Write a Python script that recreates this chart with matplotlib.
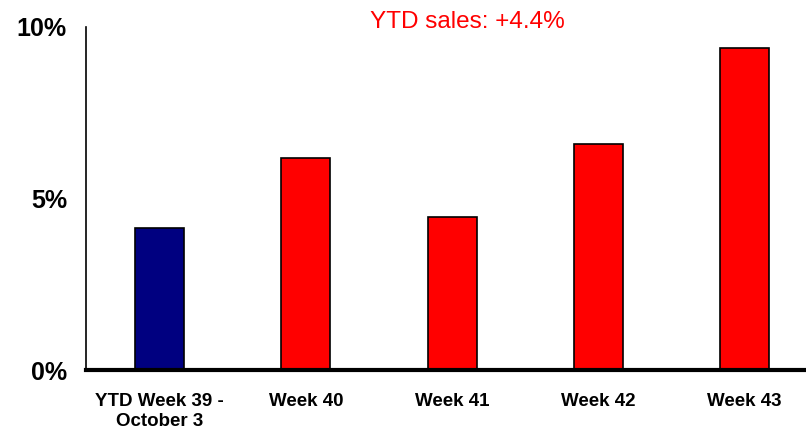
import matplotlib.pyplot as plt

# weekly sales change, percent
weeks = ['YTD Week 39 -\nOctober 3', 'Week 40', 'Week 41', 'Week 42', 'Week 43']
growth = [4.14, 6.18, 4.45, 6.59, 9.39]
colors = ['#000080', '#ff0000', '#ff0000', '#ff0000', '#ff0000']
yticks = [0, 5, 10]
ytick_labels = ['0%', '5%', '10%']

plt.rcParams['font.family'] = ['Liberation Sans', 'DejaVu Sans']

fig = plt.figure(figsize=(8.06, 4.30), dpi=100)
ax = fig.add_axes([86/806, 60/430, 720/806, 343/430])

x = range(len(weeks))
ax.bar(x, growth, width=0.335, color=colors, edgecolor='black', linewidth=1.2, zorder=2)

ax.set_xlim(-0.5026, 4.42)
ax.set_ylim(0, 10)
ax.set_yticks(yticks)
ax.set_yticklabels(ytick_labels, fontsize=18, fontweight='bold')
ax.set_xticks(list(x))
ax.set_xticklabels(weeks, fontsize=13.5, fontweight='bold', linespacing=1.2)
ax.tick_params(axis='both', length=0)
ax.tick_params(axis='y', pad=13.7)
ax.tick_params(axis='x', pad=16.8)

for side in ['top', 'right']:
    ax.spines[side].set_visible(False)
ax.spines['left'].set_linewidth(1.2)
ax.spines['bottom'].set_linewidth(3)
ax.spines['bottom'].set_zorder(3)

fig.text(467/806, 1 - 22.5/430, 'YTD sales: +4.4%', color='#ff0000', fontsize=17.5,
         ha='center', va='center')

fig.savefig('out.png', dpi=100)
